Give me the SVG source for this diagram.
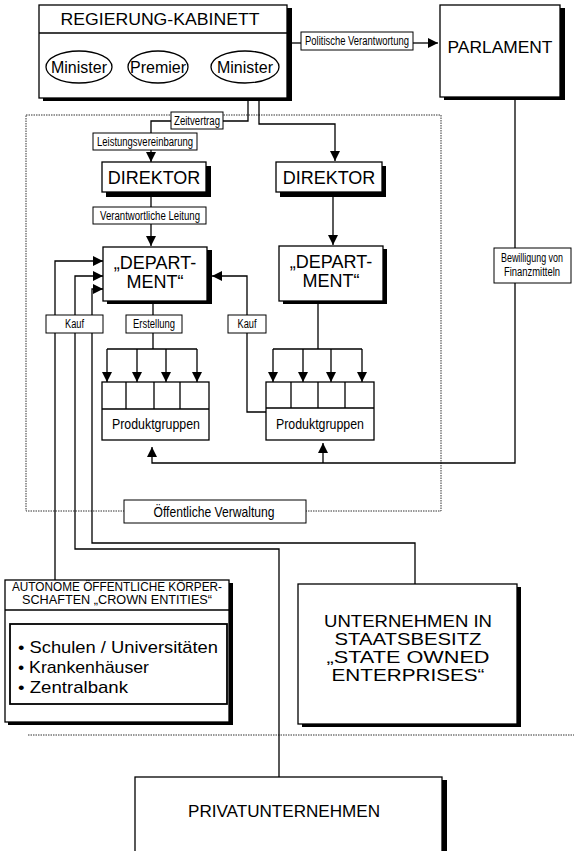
<svg xmlns="http://www.w3.org/2000/svg" width="574" height="851" viewBox="0 0 574 851">
<style>
text{font-family:"Liberation Sans",Arial,Helvetica,sans-serif;fill:#000}
.box{fill:#fff;stroke:#000;stroke-width:1.3}
.sh{fill:#000}
.lbl{fill:#fff;stroke:#000;stroke-width:1}
.c{fill:none;stroke:#000;stroke-width:1.3}
.dot{fill:none;stroke:#333;stroke-width:1;stroke-dasharray:1.5 1}
.big{font-size:17px;text-anchor:middle}
.dep{font-size:18px;text-anchor:middle}
.sm{font-size:12px;text-anchor:middle}
.mid{text-anchor:middle}
</style>
<defs>
<marker id="ah" viewBox="0 0 10 10" refX="10" refY="5" markerWidth="10" markerHeight="10" markerUnits="userSpaceOnUse" orient="auto-start-reverse"><path d="M0,0L10,5L0,10z" fill="#000"/></marker>
</defs>
<rect width="574" height="851" fill="#fff"/>

<g id="frame">
<rect class="dot" x="26" y="115" width="415" height="396"/>
<line class="dot" x1="28" y1="735" x2="574" y2="735"/>
</g>

<g id="connectors">
<path class="c" d="M292 43H301"/>
<path class="c" d="M413 43H438" marker-end="url(#ah)"/>
<path class="c" d="M248 91V121H223" marker-start="url(#ah)"/>
<path class="c" d="M171 121H151V133"/>
<path class="c" d="M151 150V162" marker-end="url(#ah)"/>
<path class="c" d="M259 91V124H335V161" marker-start="url(#ah)" marker-end="url(#ah)"/>
<path class="c" d="M151 197V207"/>
<path class="c" d="M151 224V246" marker-end="url(#ah)"/>
<path class="c" d="M333 197V245" marker-end="url(#ah)"/>
<path class="c" d="M153 303V315M153 333V349"/>
<path class="c" d="M107 349H197"/>
<path class="c" d="M107 349V382" marker-end="url(#ah)"/>
<path class="c" d="M137 349V382" marker-end="url(#ah)"/>
<path class="c" d="M166 349V382" marker-end="url(#ah)"/>
<path class="c" d="M197 349V382" marker-end="url(#ah)"/>
<path class="c" d="M318 303V349"/>
<path class="c" d="M273 349H362"/>
<path class="c" d="M273 349V382" marker-end="url(#ah)"/>
<path class="c" d="M303 349V382" marker-end="url(#ah)"/>
<path class="c" d="M331 349V382" marker-end="url(#ah)"/>
<path class="c" d="M362 349V382" marker-end="url(#ah)"/>
<path class="c" d="M266 412H247V333"/>
<path class="c" d="M247 315V276H212" marker-end="url(#ah)"/>
<path class="c" d="M55 580V261H103" marker-end="url(#ah)"/>
<path class="c" d="M279 777V549H75V276H103" marker-end="url(#ah)"/>
<path class="c" d="M415 584V543H92V289H103" marker-end="url(#ah)"/>
<path class="c" d="M515 97V248"/>
<path class="c" d="M515 283V463H152V447" marker-end="url(#ah)"/>
<path class="c" d="M323 463V443" marker-end="url(#ah)"/>

<rect class="lbl" x="301" y="32" width="112" height="18"/>
<text class="sm" x="357" y="45" textLength="104" lengthAdjust="spacingAndGlyphs">Politische Verantwortung</text>
<rect class="lbl" x="171" y="112" width="52" height="17"/>
<text class="sm" x="197" y="125" textLength="46" lengthAdjust="spacingAndGlyphs">Zeitvertrag</text>
<rect class="lbl" x="93" y="133" width="104" height="17"/>
<text class="sm" x="145" y="146" textLength="96" lengthAdjust="spacingAndGlyphs">Leistungsvereinbarung</text>
<rect class="lbl" x="93" y="207" width="113" height="17"/>
<text class="sm" x="150" y="220" textLength="100" lengthAdjust="spacingAndGlyphs">Verantwortliche Leitung</text>
<rect class="lbl" x="46" y="315" width="57" height="18"/>
<text class="sm" x="74.5" y="328" textLength="19" lengthAdjust="spacingAndGlyphs">Kauf</text>
<rect class="lbl" x="126" y="315" width="56" height="18"/>
<text class="sm" x="154" y="328" textLength="42" lengthAdjust="spacingAndGlyphs">Erstellung</text>
<rect class="lbl" x="228" y="315" width="38" height="18"/>
<text class="sm" x="247" y="328" textLength="19" lengthAdjust="spacingAndGlyphs">Kauf</text>
<rect class="lbl" x="494" y="248" width="77" height="35"/>
<text class="sm" x="532" y="262" font-size="10" textLength="62" lengthAdjust="spacingAndGlyphs">Bewilligung von</text>
<text class="sm" x="532" y="276" font-size="10" textLength="56" lengthAdjust="spacingAndGlyphs">Finanzmitteln</text>
<rect class="lbl" x="124" y="500" width="182" height="23"/>
<text class="mid" x="214" y="517" font-size="15" textLength="121" lengthAdjust="spacingAndGlyphs">Öffentliche Verwaltung</text>
</g>

<g id="regierung">
<rect class="sh" x="43" y="8" width="249" height="93"/>
<rect class="box" x="39" y="5" width="248" height="93"/>
<line class="c" x1="39" y1="33" x2="287" y2="33"/>
<text class="big" x="160" y="25" textLength="199" lengthAdjust="spacingAndGlyphs">REGIERUNG-KABINETT</text>
<ellipse class="box" cx="79" cy="67" rx="33" ry="16"/>
<text class="mid" x="79" y="73" font-size="16">Minister</text>
<ellipse class="box" cx="158" cy="67" rx="30" ry="16"/>
<text class="mid" x="158" y="73" font-size="16">Premier</text>
<ellipse class="box" cx="245" cy="67" rx="34" ry="16"/>
<text class="mid" x="245" y="73" font-size="16">Minister</text>
</g>

<g id="parlament">
<rect class="sh" x="444" y="8" width="121" height="92"/>
<rect class="box" x="440" y="5" width="120" height="92"/>
<text class="big" x="500" y="53" textLength="105" lengthAdjust="spacingAndGlyphs">PARLAMENT</text>
</g>

<g id="direktor1">
<rect class="sh" x="106" y="166" width="105" height="31"/>
<rect class="box" x="102" y="162" width="104" height="30"/>
<text class="dep" x="154" y="184">DIREKTOR</text>
</g>

<g id="direktor2">
<rect class="sh" x="280" y="166" width="106" height="31"/>
<rect class="box" x="276" y="162" width="106" height="30"/>
<text class="dep" x="329" y="184">DIREKTOR</text>
</g>

<g id="department1">
<rect class="sh" x="107" y="250" width="105" height="54"/>
<rect class="box" x="103" y="247" width="104" height="54"/>
<text class="dep" x="155" y="269">„DEPART-</text>
<text class="dep" x="155" y="288">MENT“</text>
</g>

<g id="department2">
<rect class="sh" x="283" y="249" width="104" height="55"/>
<rect class="box" x="279" y="246" width="104" height="55"/>
<text class="dep" x="331" y="268">„DEPART-</text>
<text class="dep" x="331" y="287">MENT“</text>
</g>

<g id="produkte1">
<rect class="box" x="102" y="382" width="107" height="58"/>
<path class="c" d="M102 409H209M126 382V409M154 382V409M180 382V409"/>
<text class="mid" x="156" y="429" font-size="15" textLength="88" lengthAdjust="spacingAndGlyphs">Produktgruppen</text>
</g>

<g id="produkte2">
<rect class="box" x="266" y="382" width="108" height="58"/>
<path class="c" d="M266 408H374M291 382V408M318 382V408M345 382V408"/>
<text class="mid" x="320" y="429" font-size="15" textLength="88" lengthAdjust="spacingAndGlyphs">Produktgruppen</text>
</g>

<g id="crown">
<rect class="sh" x="8" y="583" width="225" height="142"/>
<rect class="box" x="5" y="580" width="224" height="142"/>
<line class="c" x1="5" y1="610" x2="229" y2="610"/>
<text class="mid" x="117" y="591" font-size="12" textLength="210" lengthAdjust="spacingAndGlyphs">AUTONOME ÖFFENTLICHE KÖRPER-</text>
<text class="mid" x="117" y="604" font-size="12" textLength="190" lengthAdjust="spacingAndGlyphs">SCHAFTEN „CROWN ENTITIES“</text>
<rect x="10" y="624" width="217" height="80" fill="#fff" stroke="#000" stroke-width="1.8"/>
<text x="18" y="653" font-size="17" textLength="200" lengthAdjust="spacingAndGlyphs">• Schulen / Universitäten</text>
<text x="18" y="673" font-size="17" textLength="131" lengthAdjust="spacingAndGlyphs">• Krankenhäuser</text>
<text x="18" y="693" font-size="17" textLength="110" lengthAdjust="spacingAndGlyphs">• Zentralbank</text>
</g>

<g id="soe">
<rect class="sh" x="302" y="587" width="219" height="140"/>
<rect class="box" x="298" y="584" width="219" height="140"/>
<text class="big" x="408" y="627" textLength="168" lengthAdjust="spacingAndGlyphs">UNTERNEHMEN IN</text>
<text class="big" x="408" y="645" textLength="147" lengthAdjust="spacingAndGlyphs">STAATSBESITZ</text>
<text class="big" x="408" y="663" textLength="163" lengthAdjust="spacingAndGlyphs">„STATE OWNED</text>
<text class="big" x="408" y="681" textLength="153" lengthAdjust="spacingAndGlyphs">ENTERPRISES“</text>
</g>

<g id="privat">
<rect class="sh" x="140" y="780" width="307" height="80"/>
<rect class="box" x="135" y="777" width="307" height="80"/>
<text class="big" x="284" y="817" textLength="192" lengthAdjust="spacingAndGlyphs">PRIVATUNTERNEHMEN</text>
</g>
</svg>
